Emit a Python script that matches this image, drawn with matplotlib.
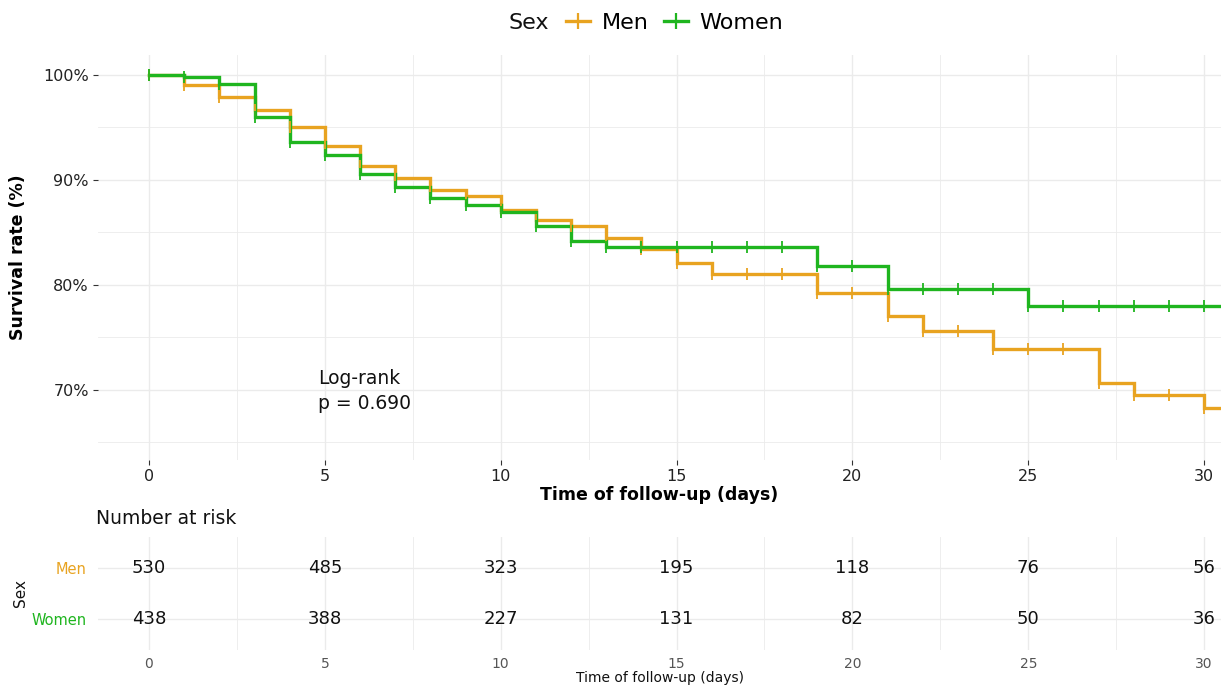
import numpy as np
import matplotlib
matplotlib.use('Agg')
import matplotlib.pyplot as plt
from matplotlib.lines import Line2D
from matplotlib.ticker import MultipleLocator, FixedLocator, FuncFormatter

# ---------------- data ----------------
days = list(range(0, 31))
men_surv = [100, 99.05, 97.9, 96.7, 95.0, 93.2, 91.3, 90.2, 89.0, 88.5,
            87.1, 86.2, 85.6, 84.5, 83.4, 82.1, 81.0, 81.0, 81.0, 79.2,
            79.2, 77.0, 75.6, 75.6, 73.9, 73.9, 73.9, 70.6, 69.5, 69.5, 68.3]
women_surv = [100, 99.8, 99.1, 96.0, 93.6, 92.4, 90.6, 89.3, 88.3, 87.6,
              86.9, 85.6, 84.2, 83.6, 83.6, 83.6, 83.6, 83.6, 83.6, 81.8,
              81.8, 79.6, 79.6, 79.6, 79.6, 78.0, 78.0, 78.0, 78.0, 78.0, 78.0]
censor_days = list(range(0, 31))
risk_times = [0, 5, 10, 15, 20, 25, 30]
men_risk = [530, 485, 323, 195, 118, 76, 56]
women_risk = [438, 388, 227, 131, 82, 50, 36]
groups = ['Men', 'Women']
colors = ['#E8A320', '#1FB51F']
pvalue_text = 'Log-rank\np = 0.690'

plt.rcParams['font.family'] = ['DejaVu Sans']

W, H = 1221, 686
fig = plt.figure(figsize=(W / 100, H / 100), dpi=100)

XMIN, XMAX = -1.45, 30.48
GRID = '#EBEBEB'

# ---------------- main KM panel ----------------
ax = fig.add_axes([98 / W, 1 - 460 / H, 1 - 98 / W, (460 - 55) / H])
ax.set_xlim(XMIN, XMAX)
ax.set_ylim(63.3, 101.9)

surv_all = [men_surv, women_surv]
for name, surv, col in zip(groups, surv_all, colors):
    xs = np.append(np.array(days, dtype=float), XMAX)
    ys = np.append(np.array(surv, dtype=float), surv[-1])
    ax.step(xs, ys, where='post', color=col, lw=2.4, zorder=3, solid_joinstyle='miter')
    cd = np.array(censor_days)
    cv = np.array(surv)[cd]
    ax.plot(cd, cv, ls='none', marker='|', ms=9, mew=1.3, color=col, zorder=4)

ax.xaxis.set_major_locator(MultipleLocator(5))
ax.xaxis.set_minor_locator(MultipleLocator(2.5))
ax.yaxis.set_major_locator(FixedLocator([70, 80, 90, 100]))
ax.yaxis.set_minor_locator(FixedLocator([65, 75, 85, 95]))
ax.yaxis.set_major_formatter(FuncFormatter(lambda v, p: f'{v:.0f}%'))
ax.grid(which='major', color=GRID, lw=1.0, zorder=0)
ax.grid(which='minor', color=GRID, lw=0.6, zorder=0)
ax.set_axisbelow(True)
for s in ax.spines.values():
    s.set_visible(False)
ax.tick_params(which='major', length=3.5, width=0.8, color='#333333',
               labelsize=11.5, labelcolor='#222222', pad=3)
ax.tick_params(which='minor', length=0)

ax.set_xlabel('Time of follow-up (days)', fontsize=12.5, fontweight='bold')
ax.xaxis.set_label_coords(0.5, (460 - 486) / 405)
fig.text(18 / W, 1 - 257 / H, 'Survival rate (%)', rotation=90, ha='center', va='center',
         fontsize=12.5, fontweight='bold', color='black')

lines = pvalue_text.split('\n')
ax.text(4.8, 71.05, lines[0], ha='left', va='center', fontsize=13.5, color='#111111')
ax.text(4.8, 68.65, lines[1], ha='left', va='center', fontsize=13.5, color='#111111')

# ---------------- legend ----------------
fig.text(508 / W, 1 - 23 / H, 'Sex', ha='left', va='center', fontsize=16, color='#111111')
handles = [Line2D([0], [0], color=c, lw=2.4, marker='|', ms=11, mew=1.6) for c in colors]
fig.legend(handles, groups, ncol=2, loc='center left',
           bbox_to_anchor=(566 / W, 1 - 23 / H), frameon=False,
           fontsize=16, handlelength=1.1, handletextpad=0.5,
           columnspacing=0.7, borderpad=0, borderaxespad=0)

# ---------------- risk table ----------------
ax2 = fig.add_axes([98 / W, 1 - 650 / H, 1 - 98 / W, (650 - 537) / H])
ax2.set_xlim(XMIN, XMAX)
ax2.set_ylim(0.38, 2.62)
rows = {'Men': 2, 'Women': 1}
for name, risk in zip(groups, [men_risk, women_risk]):
    for t, n in zip(risk_times, risk):
        ax2.text(t, rows[name], str(n), ha='center', va='center', fontsize=13, color='#111111')
ax2.set_yticks([rows[g] for g in groups])
ax2.set_yticklabels(groups)
for lbl, col in zip(ax2.get_yticklabels(), colors):
    lbl.set_color(col)
ax2.xaxis.set_major_locator(MultipleLocator(5))
ax2.xaxis.set_minor_locator(MultipleLocator(2.5))
ax2.grid(which='major', color=GRID, lw=1.0, zorder=0)
ax2.grid(which='minor', axis='x', color=GRID, lw=0.6, zorder=0)
ax2.set_axisbelow(True)
for s in ax2.spines.values():
    s.set_visible(False)
ax2.tick_params(axis='y', length=0, labelsize=10.5, pad=8)
ax2.tick_params(axis='x', length=0, labelsize=10, labelcolor='#555555', pad=5)
ax2.tick_params(which='minor', length=0)
ax2.set_xlabel('Time of follow-up (days)', fontsize=10, color='#111111', labelpad=0)
fig.text(20 / W, 1 - 593 / H, 'Sex', rotation=90, ha='center', va='center', fontsize=11, color='#111111')
fig.text(96 / W, 1 - 519 / H, 'Number at risk', ha='left', va='center', fontsize=13.5, color='#111111')

fig.savefig('out.png', dpi=100, facecolor='white')
